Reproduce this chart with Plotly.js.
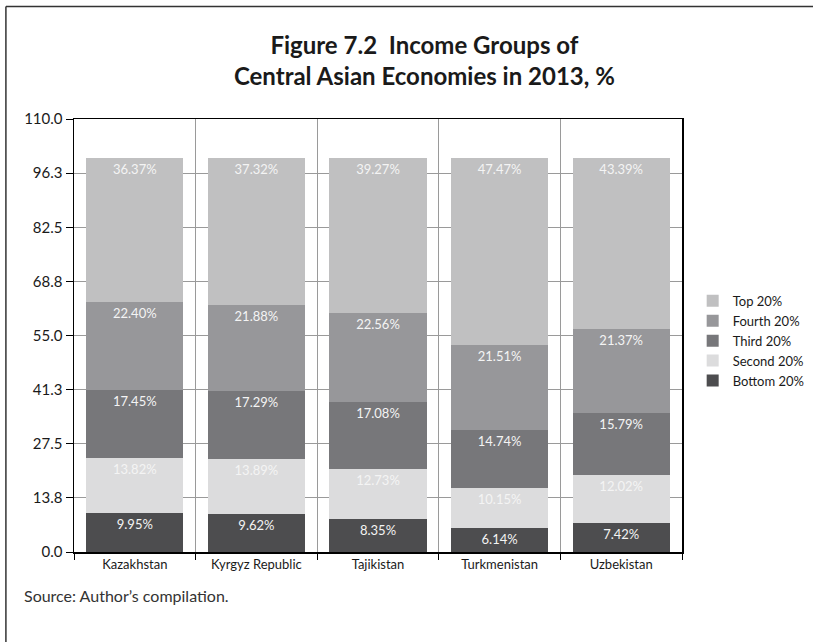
<!DOCTYPE html>
<html>
<head>
<meta charset="utf-8">
<script src="https://cdn.plot.ly/plotly-3.0.1.min.js"></script>
<style>html,body{margin:0;padding:0;background:#fff;}#chart{width:813px;height:642px;}</style>
</head>
<body>
<div id="chart"></div>
<script>
const categories = ["Kazakhstan", "Kyrgyz Republic", "Tajikistan", "Turkmenistan", "Uzbekistan"];
const bottom20 = [9.95, 9.62, 8.35, 6.14, 7.42];
const second20 = [13.82, 13.89, 12.73, 10.15, 12.02];
const third20 = [17.45, 17.29, 17.08, 14.74, 15.79];
const fourth20 = [22.40, 21.88, 22.56, 21.51, 21.37];
const top20 = [36.37, 37.32, 39.27, 47.47, 43.39];
const seriesNames = ["Bottom 20%", "Second 20%", "Third 20%", "Fourth 20%", "Top 20%"];
const yTickVals = [0, 13.75, 27.5, 41.25, 55, 68.75, 82.5, 96.25, 110];

const seriesData = [bottom20, second20, third20, fourth20, top20];
const colors = ["#4d4d4f", "#dcdcdd", "#77777a", "#97979a", "#c0c0c1"];
const FONT = "Lato, 'Open Sans', sans-serif";

const traces = seriesData.map((vals, i) => ({
  type: "bar",
  name: seriesNames[i],
  x: categories,
  y: vals,
  marker: { color: colors[i], line: { width: 0 } },
  texttemplate: "%{y:.2f}%",
  textposition: "inside",
  insidetextanchor: "end",
  textangle: 0,
  constraintext: "none",
  textfont: { color: "#f4f4f4", size: 13, family: FONT },
  hoverinfo: "skip"
}));

const x0 = -0.112, yTop = 1.2598;
const layout = {
  width: 813,
  height: 642,
  paper_bgcolor: "#ffffff",
  plot_bgcolor: "#ffffff",
  font: { family: FONT, color: "#1a1a1a" },
  margin: { l: 74, r: 131, t: 119, b: 90 },
  barmode: "stack",
  bargap: 0.2,
  title: {
    text: "<b>Figure 7.2  Income Groups of<br>Central Asian Economies in 2013, %</b>",
    font: { family: FONT, size: 24, color: "#1a1a1a" },
    x: 0.522,
    xanchor: "center",
    xref: "container",
    y: 0.916,
    yanchor: "middle",
    yref: "container"
  },
  xaxis: {
    type: "category",
    tickson: "boundaries",
    showgrid: true,
    gridcolor: "#9a9a9a",
    gridwidth: 1,
    ticks: "outside",
    ticklen: 6,
    tickcolor: "#000",
    showline: true,
    linecolor: "#000",
    linewidth: 1.5,
    mirror: true,
    tickfont: { family: FONT, size: 13, color: "#1a1a1a" },
    fixedrange: true
  },
  yaxis: {
    range: [0, 110],
    tickvals: yTickVals,
    tickformat: ".1f",
    showgrid: true,
    gridcolor: "#9a9a9a",
    gridwidth: 1,
    zeroline: false,
    ticks: "outside",
    ticklen: 7,
    tickcolor: "#000",
    showline: true,
    linecolor: "#000",
    linewidth: 1.5,
    mirror: true,
    tickfont: { family: FONT, size: 15, color: "#1a1a1a" },
    fixedrange: true
  },
  legend: {
    xref: "container",
    yref: "container",
    x: 0.852,
    xanchor: "left",
    y: 0.469,
    yanchor: "middle",
    traceorder: "reversed",
    font: { family: FONT, size: 13, color: "#1a1a1a" },
    itemwidth: 30,
    bgcolor: "rgba(0,0,0,0)"
  },
  annotations: [{
    text: "Source: Author\u2019s compilation.",
    xref: "paper", yref: "paper",
    x: -0.0855, y: -0.1016,
    xanchor: "left", yanchor: "middle",
    showarrow: false,
    font: { family: FONT, size: 16, color: "#333" }
  }],
  shapes: [
    { type: "line", xref: "paper", yref: "paper", x0: x0, x1: 1.4, y0: yTop, y1: yTop, line: { color: "#333", width: 1.5 } },
    { type: "line", xref: "paper", yref: "paper", x0: x0, x1: x0, y0: yTop, y1: -0.4, line: { color: "#333", width: 1.5 } }
  ]
};

Plotly.newPlot("chart", traces, layout, { displayModeBar: false, staticPlot: true });
</script>
</body>
</html>
